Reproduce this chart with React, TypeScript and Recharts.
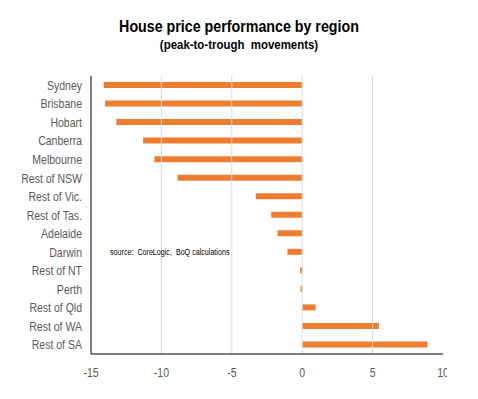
import React from 'react';
import { BarChart, Bar, XAxis, YAxis, ReferenceLine } from 'recharts';

const regions = [
    'Sydney', 'Brisbane', 'Hobart', 'Canberra', 'Melbourne', 'Rest of NSW', 'Rest of Vic.',
    'Rest of Tas.', 'Adelaide', 'Darwin', 'Rest of NT', 'Perth', 'Rest of Qld', 'Rest of WA', 'Rest of SA',
];
const movement = [-14.1, -14.0, -13.2, -11.3, -10.5, -8.85, -3.3, -2.2, -1.75, -1.05, -0.15, -0.12, 0.95, 5.45, 8.9];
const xTicks = [-15, -10, -5, 0, 5, 10];
const gridTicks = [-10, -5, 0, 5];

const data = regions.map((region, i) => ({ region, value: movement[i] }));

const font = '"Liberation Sans", Arial, sans-serif';
const textColor = '#595959';
const narrow = 0.81; // the original uses a condensed face

// narrow tick text, squeezed horizontally around its anchor
const NarrowTick = (props: any) => {
    const { x, y, payload, textAnchor, vertical } = props;
    return (
        <g transform={`translate(${x},${y})`}>
            <text
                transform={`scale(${narrow},1)`}
                textAnchor={textAnchor}
                dy={vertical ? '0.355em' : '0.71em'}
                fill={textColor}
                fontSize={13}
                fontFamily={font}
            >
                {payload.value}
            </text>
        </g>
    );
};

export default function App() {
    return (
        <div style={{ position: 'absolute', left: 0, top: 0, width: 478, height: 399, background: '#fff', fontFamily: font }}>
            <div style={{ position: 'absolute', top: 17, left: 0, width: 478, textAlign: 'center', fontWeight: 'bold', color: '#000' }}>
                <div style={{ fontSize: 16, lineHeight: '20px', transform: 'scaleX(0.89)' }}>House price performance by region</div>
                <div style={{ fontSize: 13, lineHeight: '16px', whiteSpace: 'pre', transform: 'scaleX(0.88)' }}>(peak-to-trough  movements)</div>
            </div>
            {/* the original picture is cut off just after the last tick */}
            <div style={{ position: 'absolute', left: 0, top: 0, width: 447, height: 399, overflow: 'hidden' }}>
                <BarChart
                    layout="vertical"
                    width={478}
                    height={399}
                    data={data}
                    margin={{ top: 76, right: 35, left: 0, bottom: 15 }}
                >
                    <XAxis
                        xAxisId="top"
                        orientation="top"
                        type="number"
                        domain={[-15, 10]}
                        height={0}
                        tick={false}
                        tickLine={false}
                        axisLine={{ stroke: '#000' }}
                    />
                    <XAxis
                        xAxisId="b"
                        type="number"
                        domain={[-15, 10]}
                        ticks={xTicks}
                        height={30}
                        tickLine={false}
                        tickMargin={8}
                        axisLine={{ stroke: '#000' }}
                        tick={<NarrowTick />}
                    />
                    <YAxis
                        type="category"
                        dataKey="region"
                        width={91}
                        interval={0}
                        tickLine={false}
                        tickMargin={3}
                        axisLine={{ stroke: '#000' }}
                        tick={<NarrowTick vertical />}
                    />
                    {gridTicks.map((t) => (
                        <ReferenceLine key={t} xAxisId="b" x={t} stroke="#d9d9d9" />
                    ))}
                    <Bar xAxisId="b" dataKey="value" fill="#ED7D31" barSize={6} isAnimationActive={false} />
                </BarChart>
            </div>
            <div style={{ position: 'absolute', left: 110, top: 247, fontSize: 8.5, color: '#000', whiteSpace: 'pre', transform: 'scaleX(0.84)', transformOrigin: 'left' }}>
                source:  CoreLogic,  BoQ calculations
            </div>
        </div>
    );
}
